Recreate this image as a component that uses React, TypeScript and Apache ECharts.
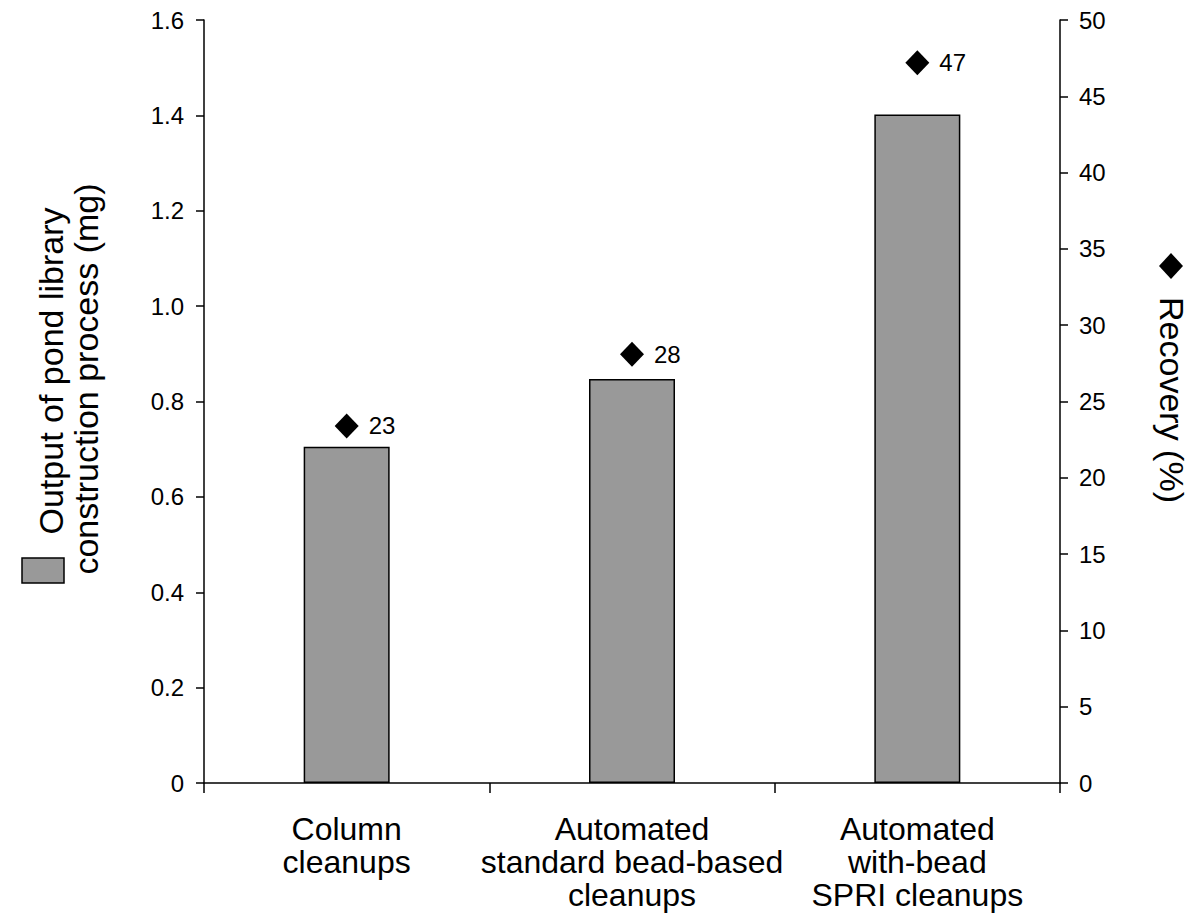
import React, { useEffect, useRef } from "react";
import * as echarts from "echarts";

const categories = [
  "Column\ncleanups",
  "Automated\nstandard bead-based\ncleanups",
  "Automated\nwith-bead\nSPRI cleanups",
];
const outputMg = [0.705, 0.847, 1.402];
const recoveryPct = [23.4, 28.1, 47.2];
const recoveryLabels = ["23", "28", "47"];
const leftAxisTitle = ["Output of pond library", "construction process (mg)"];
const rightAxisTitle = "Recovery (%)";

const FONT = "Liberation Sans, Arial, Helvetica, sans-serif";

export default function App() {
  const ref = useRef<HTMLDivElement>(null);
  useEffect(() => {
    document.body.style.margin = "0";
    const chart = echarts.init(ref.current!, null, { renderer: "svg" });
    const axisLine = { show: true, lineStyle: { color: "#000", width: 1.5 } };
    chart.setOption({
      animation: false,
      backgroundColor: "#fff",
      textStyle: { fontFamily: FONT, color: "#000" },
      grid: { left: 204, right: 140, top: 20, bottom: 137 },
      xAxis: {
        type: "category",
        data: categories,
        boundaryGap: true,
        axisLine,
        axisTick: { show: true, length: 10, alignWithLabel: false, lineStyle: { color: "#000", width: 1.5 } },
        axisLabel: { interval: 0, fontSize: 32, lineHeight: 33, color: "#000", margin: 29, fontFamily: FONT },
      },
      yAxis: [
        {
          type: "value",
          min: 0,
          max: 1.6,
          interval: 0.2,
          position: "left",
          axisLine,
          axisTick: { show: true, length: 8, lineStyle: { color: "#000", width: 1.5 } },
          splitLine: { show: false },
          axisLabel: {
            fontSize: 24,
            color: "#000",
            margin: 20,
            fontFamily: FONT,
            formatter: (v: number) => (v === 0 ? "0" : v.toFixed(1)),
          },
        },
        {
          type: "value",
          min: 0,
          max: 50,
          interval: 5,
          position: "right",
          axisLine,
          axisTick: { show: true, length: 8, lineStyle: { color: "#000", width: 1.5 } },
          splitLine: { show: false },
          axisLabel: { fontSize: 24, color: "#000", margin: 19, fontFamily: FONT },
        },
      ],
      series: [
        {
          type: "bar",
          yAxisIndex: 0,
          data: outputMg,
          barWidth: 86,
          itemStyle: { color: "#999999", borderColor: "#000", borderWidth: 1.5 },
        },
        {
          type: "scatter",
          yAxisIndex: 1,
          data: recoveryPct,
          symbol: "diamond",
          symbolSize: [24, 25],
          itemStyle: { color: "#000", opacity: 1 },
          label: {
            show: true,
            position: "right",
            distance: 10,
            fontSize: 24,
            color: "#000",
            opacity: 1,
            fontFamily: FONT,
            formatter: (p: any) => recoveryLabels[p.dataIndex],
          },
        },
      ],
      graphic: [
        {
          type: "rect",
          shape: { x: 22, y: 558, width: 42, height: 25 },
          style: { fill: "#999999", stroke: "#000", lineWidth: 1.5 },
        },
        {
          type: "text",
          x: 51,
          y: 371,
          rotation: Math.PI / 2,
          style: {
            text: leftAxisTitle[0],
            font: `34px ${FONT}`,
            fill: "#000",
            textAlign: "center",
            textVerticalAlign: "middle",
          },
        },
        {
          type: "text",
          x: 86,
          y: 379,
          rotation: Math.PI / 2,
          style: {
            text: leftAxisTitle[1],
            font: `34px ${FONT}`,
            fill: "#000",
            textAlign: "center",
            textVerticalAlign: "middle",
          },
        },
        {
          type: "polygon",
          shape: { points: [[1171, 253], [1183, 266], [1171, 279], [1159, 266]] },
          style: { fill: "#000" },
        },
        {
          type: "text",
          x: 1172,
          y: 400,
          rotation: -Math.PI / 2,
          style: {
            text: rightAxisTitle,
            font: `34px ${FONT}`,
            fill: "#000",
            textAlign: "center",
            textVerticalAlign: "middle",
          },
        },
      ],
    });
    return () => chart.dispose();
  }, []);
  return (
    <div
      ref={ref}
      style={{ position: "absolute", left: 0, top: 0, width: 1200, height: 920 }}
    />
  );
}
